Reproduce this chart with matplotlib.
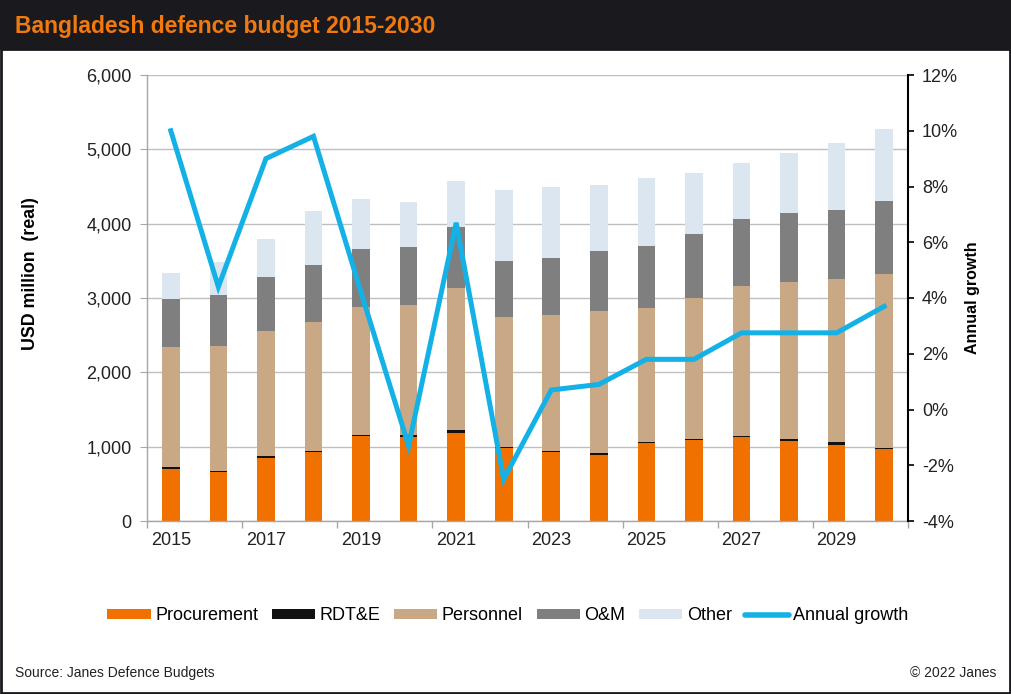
import numpy as np
import matplotlib
matplotlib.use('Agg')
import matplotlib.pyplot as plt
from matplotlib.patches import Rectangle, Patch
from matplotlib.lines import Line2D
from matplotlib.ticker import FuncFormatter, FixedLocator

plt.rcParams['font.family'] = ['Liberation Sans', 'DejaVu Sans']

years = [2015, 2016, 2017, 2018, 2019, 2020, 2021, 2022,
         2023, 2024, 2025, 2026, 2027, 2028, 2029, 2030]
procurement = [705, 660, 852, 924, 1143, 1130, 1180, 986,
               924, 892, 1045, 1085, 1126, 1078, 1020, 965]
rdte = [15, 17, 18, 18, 18, 31, 44, 14,
        18, 18, 18, 18, 17, 25, 38, 22]
personnel = [1617, 1677, 1686, 1735, 1722, 1749, 1911, 1749,
             1834, 1915, 1807, 1893, 2014, 2117, 2193, 2336]
om = [654, 686, 722, 763, 776, 781, 816, 749,
      762, 803, 834, 869, 902, 924, 937, 982]
other = [341, 440, 511, 731, 673, 601, 619, 955,
         960, 892, 910, 821, 762, 807, 897, 969]
growth = [10.0, 4.4, 9.0, 9.8, 4.2, -1.3, 6.7, -2.5,
          0.7, 0.9, 1.8, 1.8, 2.75, 2.75, 2.75, 3.7]

series = [('Procurement', procurement, '#F07000'),
          ('RDT&E', rdte, '#111111'),
          ('Personnel', personnel, '#C9A985'),
          ('O&M', om, '#7F7F7F'),
          ('Other', other, '#DCE6F0')]
line_col = '#14B1E7'

W, H = 1011, 694
fig = plt.figure(figsize=(W / 100, H / 100), dpi=100)

# header band and frame
fig.patches.append(Rectangle((0, 1 - 50 / H), 1, 50 / H, transform=fig.transFigure,
                             facecolor='#1A1A1E', edgecolor='none', zorder=0))
fig.patches.append(Rectangle((0.001, 0.002), 0.998, 1 - 50 / H, transform=fig.transFigure,
                             facecolor='none', edgecolor='#1A1A1E', lw=2, zorder=0))
fig.text(15 / W, 1 - 27 / H, 'Bangladesh defence budget 2015-2030', color='#F07A10',
         fontsize=16.5, fontweight='bold', va='center', ha='left')

ax = fig.add_axes([147 / W, 1 - 521 / H, (908 - 147) / W, (521 - 75) / H])
x = np.arange(len(years))
bottom = np.zeros(len(years))
for name, vals, col in series:
    ax.bar(x, vals, 0.37, bottom=bottom, color=col, label=name, zorder=2)
    bottom += np.array(vals)

ax.set_xlim(-0.5, len(years) - 0.5)
ax.set_ylim(0, 6000)
ax.set_yticks(np.arange(0, 6001, 1000))
ax.yaxis.set_major_formatter(FuncFormatter(lambda v, p: f'{int(v):,}'))
ax.grid(axis='y', color='#BFBFBF', lw=1)
ax.set_axisbelow(True)
ax.set_xticks(x[::2])
ax.set_xticklabels([str(y) for y in years[::2]])
ax.xaxis.set_minor_locator(FixedLocator(np.arange(-0.5, len(years), 2)))
ax.tick_params(axis='x', which='major', length=0, labelsize=13, pad=8, colors='#222222')
ax.tick_params(axis='x', which='minor', length=5, color='#A6A6A6', width=1)
ax.tick_params(axis='y', length=5, color='#A6A6A6', labelsize=13, pad=6, labelcolor='#222222')
for s in ['top', 'right']:
    ax.spines[s].set_visible(False)
for s in ['left', 'bottom']:
    ax.spines[s].set_color('#A6A6A6')
    ax.spines[s].set_linewidth(1)
ax.set_ylabel('USD million  (real)', fontsize=12.75, fontweight='bold')
ax.yaxis.set_label_coords(-0.142, 0.554)

ax2 = ax.twinx()
ax2.plot(x, growth, color=line_col, lw=3.6, solid_joinstyle='miter', zorder=3)
ax2.set_ylim(-4, 12)
ax2.set_yticks(np.arange(-4, 13, 2))
ax2.yaxis.set_major_formatter(FuncFormatter(lambda v, p: f'{int(v)}%'))
ax2.tick_params(axis='y', length=4, width=1.2, color='black', labelsize=13, pad=6,
                labelcolor='#222222')
for s in ['top', 'left', 'bottom']:
    ax2.spines[s].set_visible(False)
ax2.spines['right'].set_color('black')
ax2.spines['right'].set_linewidth(1.5)
ax2.set_ylabel('Annual growth', fontsize=11.5, fontweight='bold', rotation=90)
ax2.yaxis.set_label_coords(1.075, 0.5)

handles = [Patch(facecolor=c, edgecolor='none') for _, _, c in series]
handles.append(Line2D([0], [0], color=line_col, lw=4, solid_capstyle='round'))
labels = [n for n, _, _ in series] + ['Annual growth']
fig.legend(handles, labels, loc='center', bbox_to_anchor=(508 / W, 1 - 616 / H), ncol=6,
           frameon=False, fontsize=13, handlelength=2.4, handleheight=0.45,
           handletextpad=0.25, columnspacing=0.75)

fig.text(15 / W, 1 - 673 / H, 'Source: Janes Defence Budgets', fontsize=10,
         va='center', ha='left', color='#222222')
fig.text(996 / W, 1 - 673 / H, '\u00a9 2022 Janes', fontsize=10,
         va='center', ha='right', color='#222222')

fig.savefig('out.png', dpi=100)
